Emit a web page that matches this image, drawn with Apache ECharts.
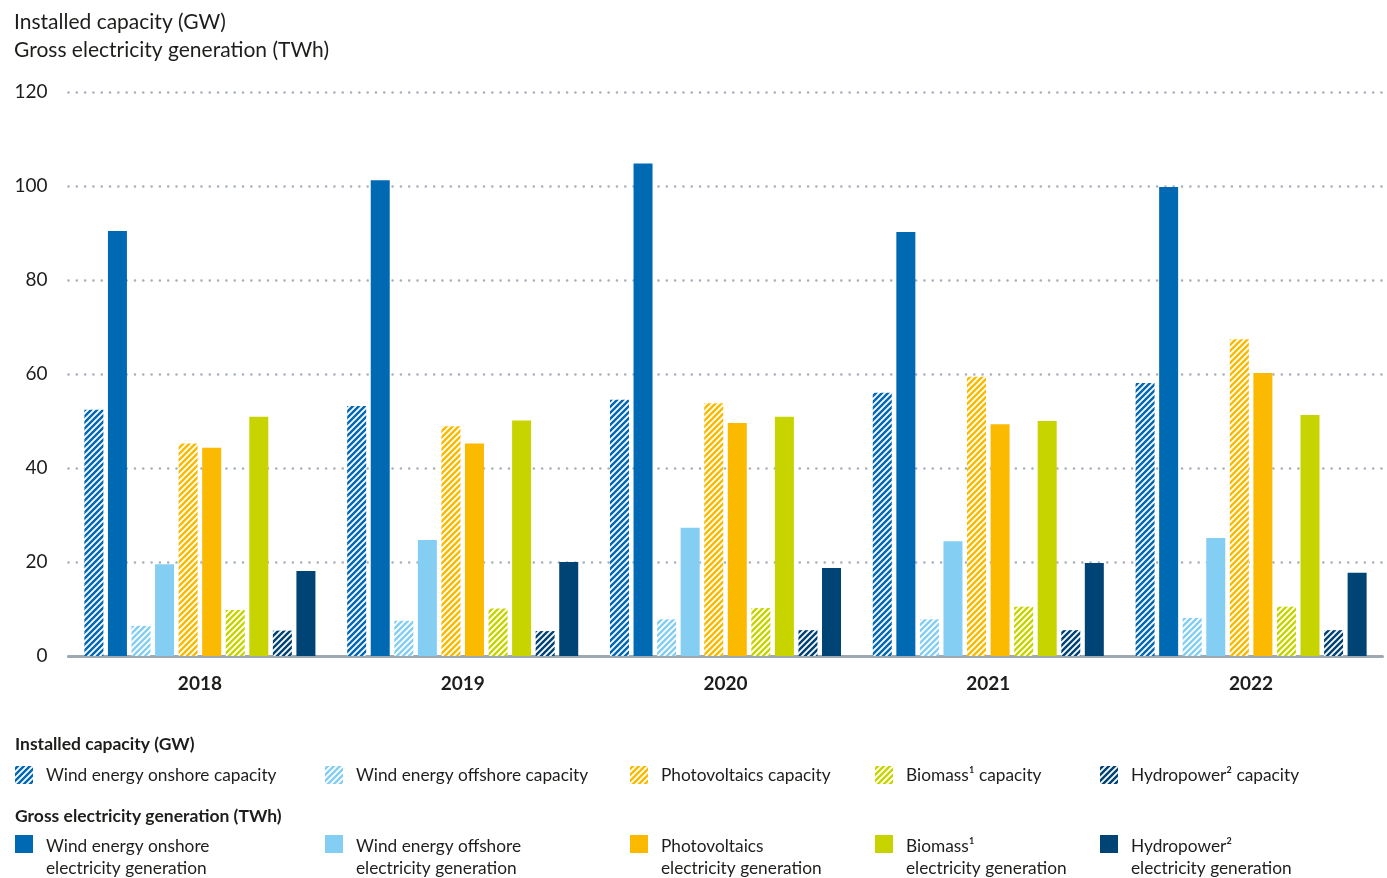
<!DOCTYPE html>
<html>
<head>
<meta charset="utf-8">
<script src="https://cdn.jsdelivr.net/npm/echarts@6/dist/echarts.min.js"></script>
<style>
html,body{margin:0;padding:0;background:#fff;}
#chart{width:1387px;height:878px;}
</style>
</head>
<body>
<div id="chart"></div>
<script>
const years = ['2018', '2019', '2020', '2021', '2022'];
const yTicks = [0, 20, 40, 60, 80, 100, 120];

const onshoreCapacity   = [52.4, 53.2, 54.5, 56.0, 58.1];
const onshoreGeneration = [90.4, 101.2, 104.8, 90.2, 99.8];
const offshoreCapacity  = [6.4, 7.5, 7.8, 7.8, 8.1];
const offshoreGeneration= [19.5, 24.7, 27.3, 24.4, 25.1];
const pvCapacity        = [45.2, 48.9, 53.8, 59.4, 67.4];
const pvGeneration      = [44.3, 45.2, 49.6, 49.3, 60.2];
const biomassCapacity   = [9.8, 10.1, 10.2, 10.5, 10.5];
const biomassGeneration = [50.9, 50.1, 50.9, 50.0, 51.3];
const hydroCapacity     = [5.4, 5.3, 5.5, 5.5, 5.5];
const hydroGeneration   = [18.1, 20.0, 18.7, 19.8, 17.7];

const seriesNames = [
  'Wind energy onshore capacity',
  'Wind energy onshore\nelectricity generation',
  'Wind energy offshore capacity',
  'Wind energy offshore\nelectricity generation',
  'Photovoltaics capacity',
  'Photovoltaics\nelectricity generation',
  'Biomass\u00B9 capacity',
  'Biomass\u00B9\nelectricity generation',
  'Hydropower\u00B2 capacity',
  'Hydropower\u00B2\nelectricity generation'
];
const seriesData = [onshoreCapacity, onshoreGeneration, offshoreCapacity, offshoreGeneration,
  pvCapacity, pvGeneration, biomassCapacity, biomassGeneration, hydroCapacity, hydroGeneration];
const baseColors = ['#0069b4', '#0069b4', '#85cef3', '#85cef3', '#fbba00', '#fbba00',
  '#c8d400', '#c8d400', '#004375', '#004375'];
const hatched = [true, false, true, false, true, false, true, false, true, false];

function hatch(color) {
  const s = 6;
  const c = document.createElement('canvas');
  c.width = s; c.height = s;
  const ctx = c.getContext('2d');
  ctx.fillStyle = color;
  ctx.fillRect(0, 0, s, s);
  ctx.strokeStyle = '#ffffff';
  ctx.lineWidth = 1.8;
  ctx.beginPath();
  ctx.moveTo(-1, s + 1); ctx.lineTo(s + 1, -1);
  ctx.moveTo(-1, 1); ctx.lineTo(1, -1);
  ctx.moveTo(s - 1, s + 1); ctx.lineTo(s + 1, s - 1);
  ctx.stroke();
  return c;
}

const FONT = 'Lato';
const series = seriesNames.map((name, i) => ({
  name: name,
  type: 'bar',
  data: seriesData[i],
  barWidth: 19,
  barGap: '24%',
  itemStyle: {
    color: hatched[i] ? { image: hatch(baseColors[i]), repeat: 'repeat' } : baseColors[i]
  },
  emphasis: { disabled: true }
}));

// square icon at the top of a 44px tall box so it lines up with the first text line
const tallSquareIcon = 'path://M0,0L18,0L18,18L0,18Z M0,44L18,44';

const legendX = [15, 325, 630, 875, 1100];
const legends = seriesNames.map((name, i) => {
  const col = Math.floor(i / 2);
  const row = i % 2;
  return {
    data: [name],
    left: legendX[col],
    top: row === 0 ? 764 : 835,
    orient: 'horizontal',
    icon: row === 0 ? 'rect' : tallSquareIcon,
    itemWidth: 18,
    itemHeight: row === 0 ? 18 : 44,
    itemGap: 0,
    padding: 0,
    selectedMode: false,
    textStyle: {
      fontFamily: FONT,
      fontSize: 17.3,
      color: '#1d1d1b',
      lineHeight: 22,
      padding: [0, 0, 0, 8]
    }
  };
});

const chart = echarts.init(document.getElementById('chart'), null, { renderer: 'canvas' });
chart.setOption({
  backgroundColor: '#ffffff',
  animation: false,
  title: [
    {
      text: 'Installed capacity (GW)\nGross electricity generation (TWh)',
      left: 14, top: 8, padding: 0,
      textStyle: { fontFamily: FONT, fontSize: 21, fontWeight: 'normal', color: '#1d1d1b', lineHeight: 28 }
    },
    {
      text: 'Installed capacity (GW)',
      left: 15, top: 735, padding: 0,
      textStyle: { fontFamily: FONT, fontSize: 17.5, fontWeight: 'bold', color: '#1d1d1b' }
    },
    {
      text: 'Gross electricity generation (TWh)',
      left: 15, top: 807, padding: 0,
      textStyle: { fontFamily: FONT, fontSize: 17.5, fontWeight: 'bold', color: '#1d1d1b' }
    }
  ],
  legend: legends,
  grid: { left: 68.5, right: 4.5, top: 92, bottom: 222, containLabel: false },
  xAxis: {
    type: 'category',
    data: years,
    axisTick: { show: false },
    axisLine: { show: true, lineStyle: { color: '#9ea8b0', width: 3 } },
    axisLabel: { fontFamily: FONT, fontSize: 19, fontWeight: 'bold', color: '#1d1d1b', margin: 18 }
  },
  yAxis: {
    type: 'value',
    min: yTicks[0],
    max: yTicks[yTicks.length - 1],
    interval: 20,
    axisLine: { show: false },
    axisTick: { show: false },
    axisLabel: { fontFamily: FONT, fontSize: 19, color: '#1d1d1b', margin: 21 },
    splitLine: { lineStyle: { color: '#a7b0b8', width: 2.6, type: [0.01, 8.3], cap: 'round' } }
  },
  series: series
});
</script>
</body>
</html>
